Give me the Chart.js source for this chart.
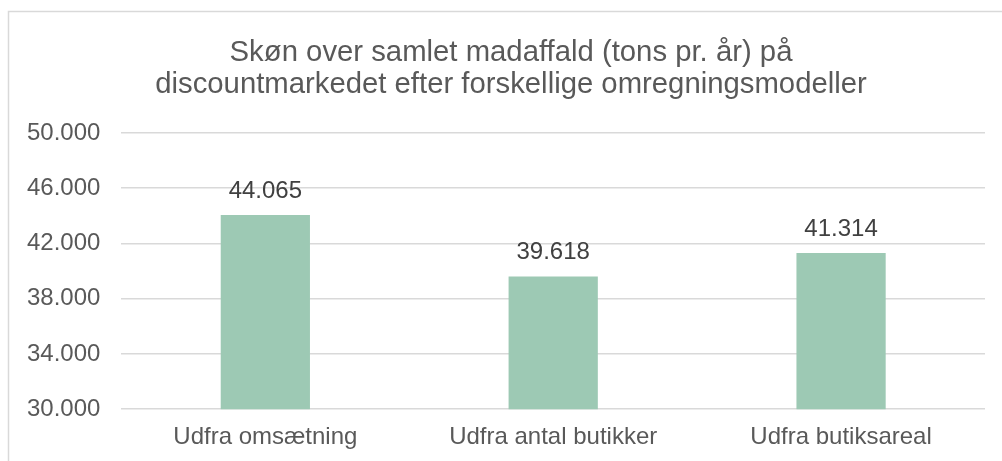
<!DOCTYPE html>
<html>
<head>
<meta charset="utf-8">
<script src="https://cdn.jsdelivr.net/npm/chart.js@4/dist/chart.umd.min.js"></script>
<style>
  html, body { margin: 0; padding: 0; background: #fff; }
  #wrap { position: relative; width: 1002px; height: 461px; }
</style>
</head>
<body>
<div id="wrap"><canvas id="bar-chart"></canvas></div>
<script>
var categories = ["Udfra omsætning", "Udfra antal butikker", "Udfra butiksareal"];
var madaffald = [44065, 39618, 41314];
var titleLines = ["Skøn over samlet madaffald (tons pr. år) på", "discountmarkedet efter forskellige omregningsmodeller"];

var FONT = '"Liberation Sans", Arial, sans-serif';

function fmt(v){
    return String(v).replace(/\B(?=(\d{3})+(?!\d))/g, ".");
}

// frame round the chart area + the two-line title, centred on the frame
var framePlugin = {
    id: 'frame',
    beforeDraw: function(chart){
        var ctx = chart.ctx;
        ctx.save();
        ctx.strokeStyle = '#d9d9d9';
        ctx.lineWidth = 1.5;
        ctx.strokeRect(8.5, 11.5, 1100, 500);
        ctx.fillStyle = '#595959';
        ctx.font = '29.3px ' + FONT;
        ctx.textAlign = 'center';
        ctx.textBaseline = 'alphabetic';
        ctx.fillText(titleLines[0], 511, 61);
        ctx.fillText(titleLines[1], 511, 93);
        ctx.restore();
    }
};

// value labels above the bars
var valuePlugin = {
    id: 'values',
    afterDatasetsDraw: function(chart){
        var ctx = chart.ctx;
        var meta = chart.getDatasetMeta(0);
        ctx.save();
        ctx.font = '24px ' + FONT;
        ctx.fillStyle = '#404040';
        ctx.textAlign = 'center';
        ctx.textBaseline = 'alphabetic';
        meta.data.forEach(function(bar, i){
            ctx.fillText(fmt(madaffald[i]), bar.x, bar.y - 17);
        });
        ctx.restore();
    }
};

new Chart(document.getElementById("bar-chart"), {
    type: 'bar',
    data: {
        labels: categories,
        datasets: [{
            label: "Madaffald",
            data: madaffald,
            backgroundColor: '#9dc9b4',
            borderWidth: 0,
            categoryPercentage: 1,
            barPercentage: 0.31
        }]
    },
    options: {
        responsive: true,
        maintainAspectRatio: false,
        animation: false,
        layout: { padding: { left: 6, right: 17, top: 133, bottom: 3 } },
        plugins: {
            legend: { display: false },
            tooltip: { enabled: false },
            title: { display: false }
        },
        scales: {
            x: {
                grid: { display: false },
                border: { display: false },
                ticks: {
                    color: '#595959',
                    padding: 6,
                    maxRotation: 0,
                    font: { family: FONT, size: 24 }
                }
            },
            y: {
                min: 30000,
                max: 50000,
                grid: { color: '#d9d9d9', lineWidth: 1.5, drawTicks: false },
                border: { display: false },
                ticks: {
                    stepSize: 4000,
                    color: '#595959',
                    padding: 21,
                    font: { family: FONT, size: 24 },
                    callback: function(v){ return fmt(v); }
                }
            }
        }
    },
    plugins: [framePlugin, valuePlugin]
});
</script>
</body>
</html>
